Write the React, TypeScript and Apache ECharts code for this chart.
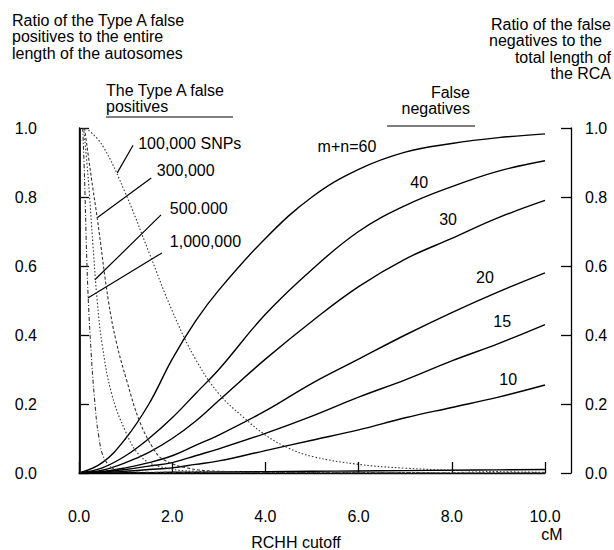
import React, { useEffect, useRef } from "react";
import * as echarts from "echarts";

// ---- data ----
const xTickLabels = ["0.0", "2.0", "4.0", "6.0", "8.0", "10.0"];
const yTickLabels = ["0.0", "0.2", "0.4", "0.6", "0.8", "1.0"];

// False negatives (solid curves), x in cM
const fnX = [0, 0.5, 1, 1.5, 2, 2.5, 3, 4, 5, 6, 7, 8, 9, 10];
const fn60 = [0, 0.03, 0.1, 0.2, 0.33, 0.44, 0.53, 0.68, 0.8, 0.88, 0.93, 0.955, 0.972, 0.983];
const fn40 = [0, 0.015, 0.05, 0.1, 0.16, 0.23, 0.3, 0.46, 0.59, 0.7, 0.775, 0.83, 0.875, 0.905];
const fn30 = [0, 0.008, 0.03, 0.06, 0.1, 0.15, 0.21, 0.33, 0.44, 0.54, 0.62, 0.68, 0.74, 0.79];
const fn20 = [0, 0.004, 0.015, 0.03, 0.05, 0.08, 0.11, 0.18, 0.26, 0.33, 0.4, 0.465, 0.525, 0.58];
const fn15 = [0, 0.003, 0.01, 0.02, 0.03, 0.05, 0.07, 0.115, 0.165, 0.22, 0.27, 0.325, 0.375, 0.43];
const fn10 = [0, 0.001, 0.005, 0.01, 0.015, 0.025, 0.035, 0.065, 0.095, 0.125, 0.16, 0.19, 0.22, 0.255];
const fn5 = [0, 0, 0.001, 0.001, 0.002, 0.002, 0.003, 0.004, 0.005, 0.006, 0.007, 0.008, 0.009, 0.01];

// Type A false positives (dotted curves): [x, ratio]
const fp100k = [[0.15, 1.0], [0.5, 0.95], [1.0, 0.81], [1.5, 0.64], [2.0, 0.47], [2.5, 0.33], [3.0, 0.23], [3.5, 0.165], [4.0, 0.11], [4.5, 0.072], [5.0, 0.048], [6, 0.025], [7, 0.014], [8, 0.008], [9, 0.004], [10, 0.002]];
const fp300k = [[0.12, 1.0], [0.25, 0.87], [0.4, 0.73], [0.63, 0.5], [0.8, 0.38], [1.02, 0.27], [1.3, 0.15], [1.6, 0.07], [1.8, 0.04], [2.3, 0.015], [3, 0.005], [5, 0.001], [10, 0]];
const fp500k = [[0.1, 1.0], [0.2, 0.85], [0.3, 0.66], [0.39, 0.5], [0.5, 0.37], [0.7, 0.23], [1.0, 0.12], [1.31, 0.05], [1.7, 0.02], [2.5, 0.005], [5, 0.001], [10, 0]];
const fp1m = [[0.08, 1.0], [0.12, 0.85], [0.16, 0.65], [0.2, 0.5], [0.26, 0.35], [0.33, 0.22], [0.42, 0.11], [0.55, 0.04], [0.8, 0.01], [1.5, 0.002], [10, 0]];
const fpEdge = [[0.03, 1.0], [0.03, 0.0]];

// annotation positions (data coords)
const fnLabels = [
  { text: "m+n=60", at: [5.75, 0.945] },
  { text: "40", at: [7.3, 0.843] },
  { text: "30", at: [7.92, 0.736] },
  { text: "20", at: [8.71, 0.568] },
  { text: "15", at: [9.08, 0.438] },
  { text: "10", at: [9.21, 0.272] },
];
const fpLabels = [
  { text: "100,000 SNPs", at: [1.27, 0.955], from: [0.82, 0.87], to: [1.16, 0.95] },
  { text: "300,000", at: [1.67, 0.878], from: [0.39, 0.74], to: [1.55, 0.855] },
  { text: "500.000", at: [1.95, 0.768], from: [0.34, 0.56], to: [1.76, 0.748] },
  { text: "1,000,000", at: [1.95, 0.67], from: [0.19, 0.507], to: [1.78, 0.638] },
];

const FONT = "'Liberation Sans', Arial, Helvetica, sans-serif";

const zip = (xs: number[], ys: number[]) => xs.map((x, i) => [x, ys[i]]);

export default function App() {
  const ref = useRef<HTMLDivElement>(null);
  useEffect(() => {
    document.body.style.margin = "0";
    const chart = echarts.init(ref.current!, null, { renderer: "svg" });
    const solid = (name: string, ys: number[]) => ({
      name,
      type: "line",
      data: zip(fnX, ys),
      smooth: 0.4,
      showSymbol: false,
      lineStyle: { color: "#000", width: 1.4 },
      silent: true,
    });
    const dotted = (name: string, d: number[][], type: any) => ({
      name,
      type: "line",
      data: d,
      smooth: 0.4,
      showSymbol: false,
      lineStyle: { color: "#333", width: 1.1, type },
      silent: true,
    });
    const yAxisBase = {
      type: "value",
      min: 0,
      max: 1,
      interval: 0.2,
      offset: 26,
      axisLine: { show: true, lineStyle: { color: "#000", width: 1.3 } },
      axisTick: { show: true, inside: true, length: 10, lineStyle: { color: "#000", width: 1.3 } },
      splitLine: { show: false },
    };
    chart.setOption({
      animation: false,
      backgroundColor: "#fff",
      textStyle: { fontFamily: FONT },
      grid: { left: 79, right: 69, top: 128, bottom: 77, containLabel: false },
      xAxis: {
        type: "value",
        min: 0,
        max: 10,
        interval: 2,
        offset: 28,
        axisLine: { show: true, lineStyle: { color: "#000", width: 1.3 } },
        axisTick: { show: true, inside: true, length: 11, lineStyle: { color: "#000", width: 1.3 } },
        splitLine: { show: false },
        axisLabel: {
          margin: 8,
          color: "#000",
          fontSize: 16,
          lineHeight: 15,
          fontFamily: FONT,
          formatter: (v: number) => xTickLabels[Math.round(v / 2)],
        },
      },
      yAxis: [
        {
          ...yAxisBase,
          position: "left",
          axisLabel: { margin: 16, color: "#000", fontSize: 16, fontFamily: FONT, formatter: (v: number) => yTickLabels[Math.round(v * 5)] },
        },
        {
          ...yAxisBase,
          position: "right",
          axisLabel: { margin: 14, color: "#000", fontSize: 16, fontFamily: FONT, formatter: (v: number) => yTickLabels[Math.round(v * 5)] },
        },
      ],
      series: [
        solid("m+n=60", fn60),
        solid("40", fn40),
        solid("30", fn30),
        solid("20", fn20),
        solid("15", fn15),
        solid("10", fn10),
        solid("5", fn5),
        dotted("100,000 SNPs", fp100k, [1.5, 2]),
        dotted("300,000", fp300k, [3, 2]),
        dotted("500,000", fp500k, [1.5, 2]),
        dotted("1,000,000", fp1m, [4, 2, 1, 2]),
        { ...dotted("edge", fpEdge, "solid"), smooth: false, lineStyle: { color: "#222", width: 1.2 } },
      ],
    });

    const px = (p: number[]) => chart.convertToPixel({ gridIndex: 0 }, p) as number[];
    const txt = (text: string, x: number, y: number, align = "left", verticalAlign = "middle", lineHeight = 16) => ({
      type: "text",
      x,
      y,
      silent: true,
      style: { text, fontSize: 16, fontFamily: FONT, fill: "#000", align, verticalAlign, lineHeight },
    });
    const ln = (x1: number, y1: number, x2: number, y2: number, w = 1.3) => ({
      type: "line",
      silent: true,
      shape: { x1, y1, x2, y2 },
      style: { stroke: "#000", lineWidth: w },
    });
    const g: any[] = [];
    g.push(txt("Ratio of the Type A false\npositives to the entire\nlength of the autosomes", 12, 12, "left", "top", 16.5));
    g.push(txt("Ratio of the false", 611, 24, "right"));
    g.push(txt("negatives to the", 602, 40, "right"));
    g.push(txt("total length of", 611, 57, "right"));
    g.push(txt("the RCA", 611, 73, "right"));
    g.push(txt("The Type A false\npositives", 106, 82, "left", "top", 16.5));
    g.push(ln(106, 117, 233, 117, 1.2));
    g.push(txt("False", 470, 92, "right"));
    g.push(txt("negatives", 470, 108, "right"));
    g.push(ln(387, 126, 475, 126, 1.2));
    g.push(txt("RCHH cutoff", 296, 542, "center", "middle", 15));
    g.push(txt("cM", 552, 534, "center", "middle", 14));
    fnLabels.forEach((l) => {
      const p = px(l.at);
      g.push(txt(l.text, p[0], p[1], "center"));
    });
    fpLabels.forEach((l) => {
      const p = px(l.at);
      g.push(txt(l.text, p[0], p[1], "left"));
      const a = px(l.from);
      const b = px(l.to);
      g.push(ln(a[0], a[1], b[0], b[1], 1.2));
    });
    chart.setOption({ graphic: g });
    return () => chart.dispose();
  }, []);
  return <div ref={ref} style={{ width: 614, height: 550 }} />;
}
